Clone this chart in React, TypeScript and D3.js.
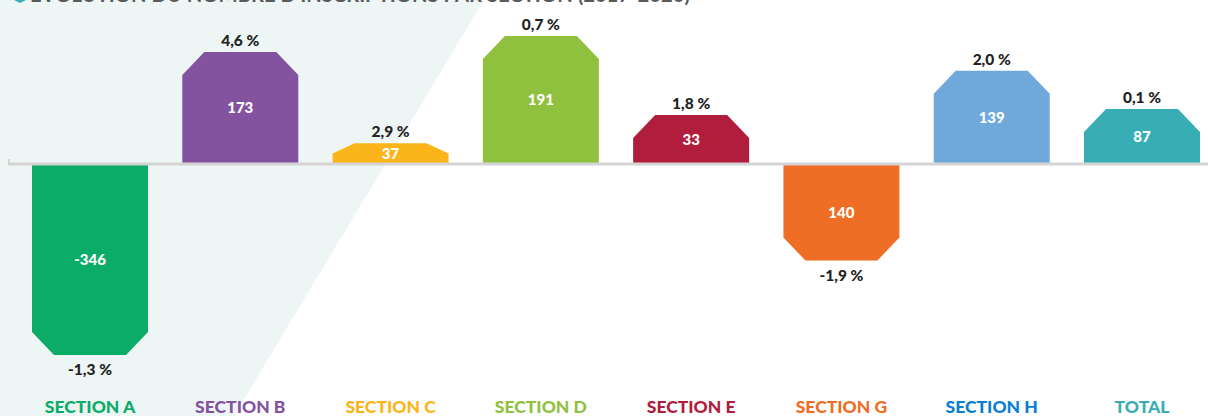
import React from "react";
import * as d3 from "d3";

const categories = ["SECTION A", "SECTION B", "SECTION C", "SECTION D", "SECTION E", "SECTION G", "SECTION H", "TOTAL"];
const valueLabels = ["-346", "173", "37", "191", "33", "140", "139", "87"];
const percentLabels = ["-1,3 %", "4,6 %", "2,9 %", "0,7 %", "1,8 %", "-1,9 %", "2,0 %", "0,1 %"];
// plotted bar extents (in label units)
const plotted = [-285, 167, 31, 191, 73, -144, 139, 82];
const barColors = ["#0bab68", "#83539f", "#fbb51a", "#8fc13f", "#b01d3d", "#ef6e25", "#6fa8da", "#38aeb4"];
const labelColors = ["#0bab68", "#83539f", "#fbb51a", "#8fc13f", "#b01d3d", "#ef6e25", "#0a7fd0", "#38aeb4"];
const title = "ÉVOLUTION DU NOMBRE D'INSCRIPTIONS PAR SECTION (2017-2020)";

const W = 1208;
const H = 416;

export default function App() {
  const x = d3.scalePoint<string>().domain(categories).range([90, 1142]);
  const k = 128 / 191;
  const zeroY = 164;
  const y = d3.scaleLinear().domain([-300, 200]).range([zeroY + 300 * k, zeroY - 200 * k]);
  const bw = 116;
  const cx = 22;

  const barPath = (v: number, c: number) => {
    const x0 = c - bw / 2;
    const x1 = c + bw / 2;
    const y0 = y(0);
    const y1 = y(v);
    const h = Math.abs(y1 - y0);
    const cy = Math.min(23, h / 2);
    const s = v >= 0 ? 1 : -1;
    const p = d3.path();
    p.moveTo(x0, y0);
    p.lineTo(x0, y1 + s * cy);
    p.lineTo(x0 + cx, y1);
    p.lineTo(x1 - cx, y1);
    p.lineTo(x1, y1 + s * cy);
    p.lineTo(x1, y0);
    p.closePath();
    return p.toString();
  };

  const font = "Lato, 'Open Sans', sans-serif";

  return (
    <svg width={W} height={H} style={{ position: "absolute", left: 0, top: 0 }}>
      <rect x={0} y={0} width={W} height={H} fill="#ffffff" />
      <polygon points={`0,0 484,0 234,${H} 0,${H}`} fill="#eef6f5" />
      {/* title, cut off at top */}
      <polygon points="12,-8 20,-12 28,-8 28,-1 20,3 12,-1" fill="#38aeb4" />
      <text x={30} y={1.5} fontFamily={font} fontWeight={700} fontSize={20} fill="#5a5a5a" textLength={660} lengthAdjust="spacingAndGlyphs">
        {title}
      </text>
      {plotted.map((v, i) => {
        const c = x(categories[i]) as number;
        const y1 = y(v);
        const midY = (y(0) + y1) / 2;
        return (
          <g key={categories[i]}>
            <path d={barPath(v, c)} fill={barColors[i]} />
            <text x={c} y={midY} dy="0.36em" textAnchor="middle" fontFamily={font} fontWeight={900} fontSize={15} fill="#ffffff">
              {valueLabels[i]}
            </text>
            <text
              x={c}
              y={v >= 0 ? y1 - 6 : y1 + 20}
              textAnchor="middle"
              fontFamily={font}
              fontWeight={900}
              fontSize={15.5}
              fill="#222222"
            >
              {percentLabels[i]}
            </text>
            <text x={c} y={413} textAnchor="middle" fontFamily={font} fontWeight={900} fontSize={17.5} fill={labelColors[i]}>
              {categories[i]}
            </text>
          </g>
        );
      })}
      <line x1={8} x2={W} y1={zeroY} y2={zeroY} stroke="#d4d4d4" strokeWidth={3} />
      <line x1={9} x2={9} y1={zeroY} y2={zeroY - 5} stroke="#d4d4d4" strokeWidth={2} />
    </svg>
  );
}
